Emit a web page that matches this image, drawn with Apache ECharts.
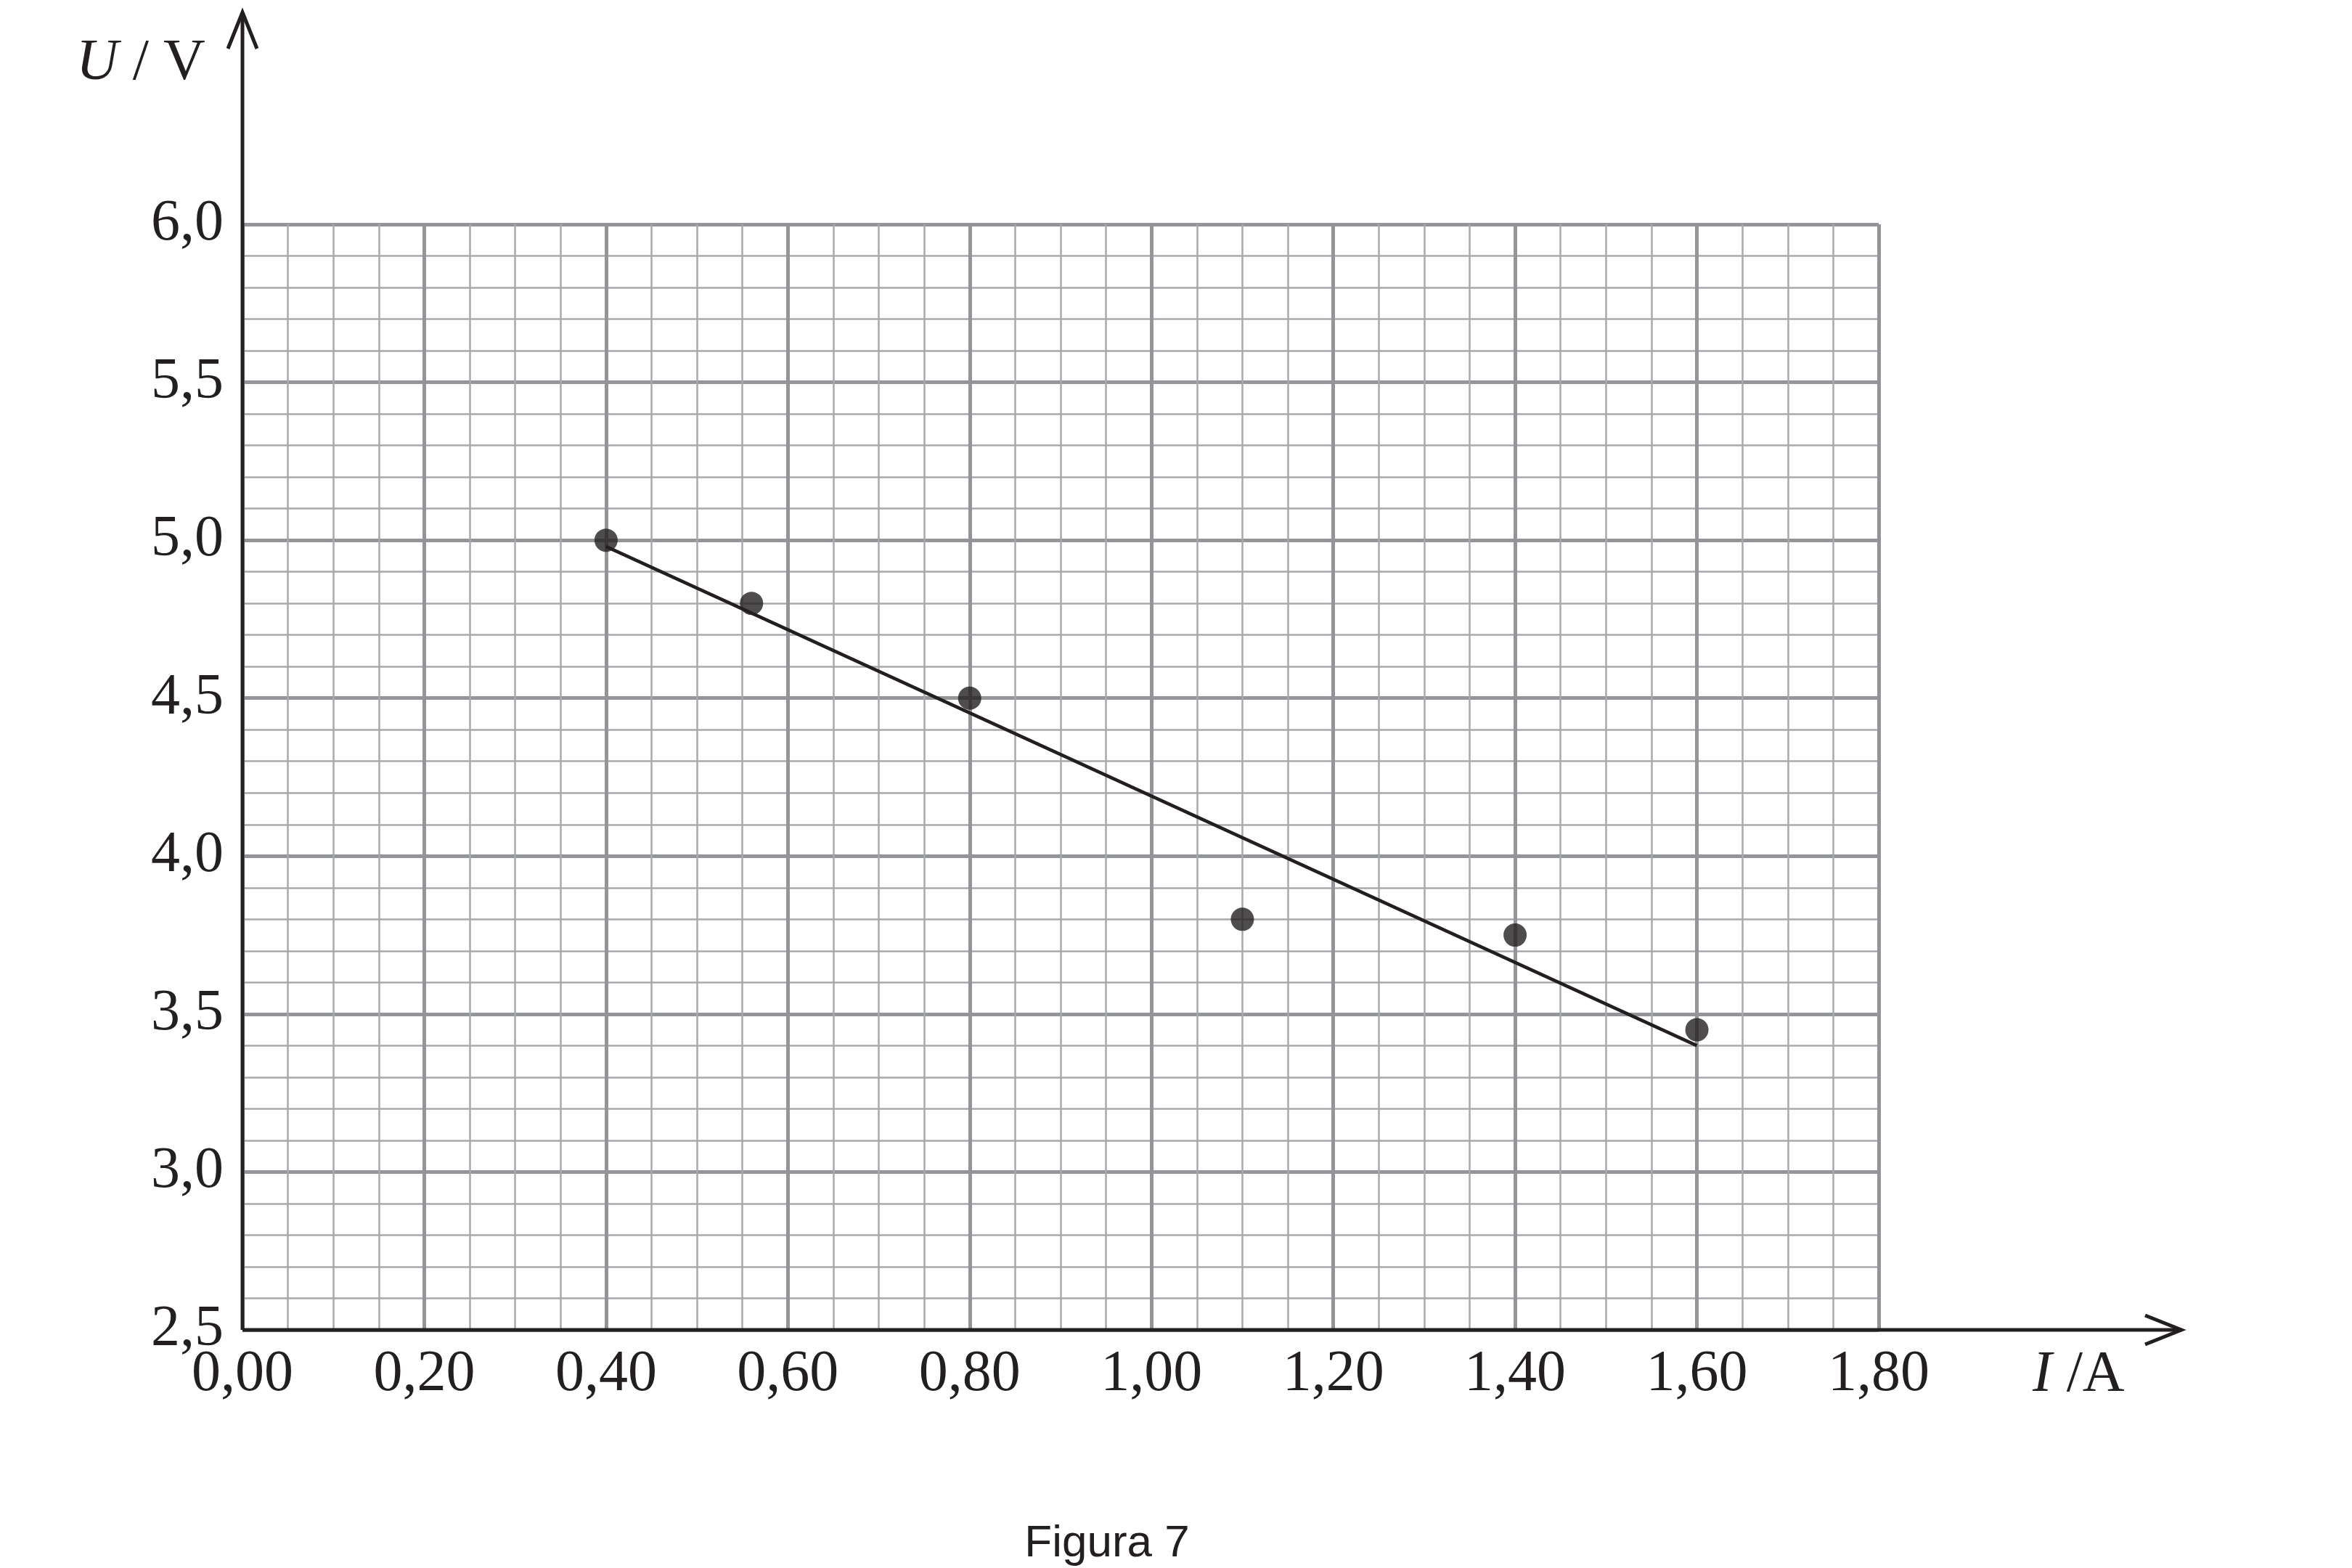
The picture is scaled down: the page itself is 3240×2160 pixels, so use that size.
<!DOCTYPE html>
<html><head><meta charset="utf-8">
<script src="https://cdn.jsdelivr.net/npm/echarts@6/dist/echarts.min.js"></script>
<style>html,body{margin:0;padding:0;background:#fff}#c{width:3240px;height:2160px}</style>
</head><body><div id="c"></div>
<script>
const currentA = [0.40, 0.56, 0.80, 1.10, 1.40, 1.60];
const voltageV = [5.0, 4.8, 4.5, 3.8, 3.75, 3.45];
const fitI = [0.40, 1.60];
const fitU = [4.98, 3.40];
const title = 'Figura 7';

(function () {
const chart = echarts.init(document.getElementById('c'));
const serif = 'Liberation Serif';
const gL = 334, gT = 309, gR = 2588, gB = 1832;
chart.setOption({
  animation: false,
  backgroundColor: '#fff',
  grid: {left: gL, top: gT, width: gR - gL, height: gB - gT},
  xAxis: {
    type: 'value', min: 0, max: 1.8, interval: 0.2,
    axisLine: {show: false},
    axisTick: {show: false},
    axisLabel: {fontFamily: serif, fontSize: 80, color: '#231f20', margin: 22,
      formatter: v => v.toFixed(2).replace('.', ',')},
    splitLine: {lineStyle: {color: '#939598', width: 5}},
    minorTick: {show: false, splitNumber: 4},
    minorSplitLine: {show: true, lineStyle: {color: '#a7a9ac', width: 2.5}}
  },
  yAxis: {
    type: 'value', min: 2.5, max: 6.0, interval: 0.5,
    axisLine: {show: false},
    axisTick: {show: false},
    axisLabel: {fontFamily: serif, fontSize: 80, color: '#231f20', margin: 26,
      formatter: v => v.toFixed(1).replace('.', ',')},
    splitLine: {lineStyle: {color: '#939598', width: 5}},
    minorTick: {show: false, splitNumber: 5},
    minorSplitLine: {show: true, lineStyle: {color: '#a7a9ac', width: 2.5}}
  },
  series: [
    {type: 'line', data: fitI.map((x, i) => [x, fitU[i]]), symbol: 'none',
     lineStyle: {color: '#231f20', width: 4.5}, z: 3},
    {type: 'scatter', data: currentA.map((x, i) => [x, voltageV[i]]), symbolSize: 32,
     itemStyle: {color: '#231f20'}, z: 4}
  ]
});

const o = chart.convertToPixel({gridIndex: 0}, [0, 2.5]);
const ax = o[0], ay = o[1];
const arrowX = 3005, arrowY = 17;
chart.setOption({graphic: [
  {type: 'line', shape: {x1: ax, y1: ay, x2: arrowX, y2: ay}, style: {stroke: '#231f20', lineWidth: 5}, z: 10},
  {type: 'line', shape: {x1: ax, y1: ay, x2: ax, y2: arrowY}, style: {stroke: '#231f20', lineWidth: 5}, z: 10},
  {type: 'polyline', shape: {points: [[arrowX - 50, ay - 20], [arrowX, ay], [arrowX - 50, ay + 20]]}, style: {stroke: '#231f20', lineWidth: 5, fill: null}, z: 10},
  {type: 'polyline', shape: {points: [[ax - 20, arrowY + 50], [ax, arrowY], [ax + 20, arrowY + 50]]}, style: {stroke: '#231f20', lineWidth: 5, fill: null}, z: 10},
  {type: 'text', x: 105, y: 48, style: {text: '{i|U} / V', fill: '#231f20', font: '80px "Liberation Serif"',
    rich: {i: {fontStyle: 'italic', fontFamily: serif, fontSize: 80, fill: '#231f20'}}}},
  {type: 'text', x: 2800, y: 1855, style: {text: '{i|I} /A', fill: '#231f20', font: '80px "Liberation Serif"',
    rich: {i: {fontStyle: 'italic', fontFamily: serif, fontSize: 80, fill: '#231f20'}}}},
  {type: 'text', x: 1525, y: 2127, style: {text: title, fill: '#231f20', font: '62px "Liberation Sans"', align: 'center', verticalAlign: 'middle'}}
]});
})();
</script></body></html>
